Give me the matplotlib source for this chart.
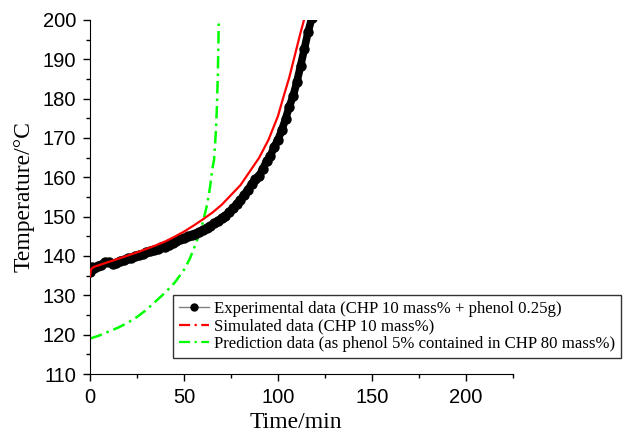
import matplotlib.pyplot as plt
from matplotlib.lines import Line2D
from matplotlib.ticker import MultipleLocator

# experimental data (CHP 10 mass% + phenol 0.25g)
exp_t = [0, 1, 2, 4, 6, 8, 10, 12, 14, 16, 18, 20, 22, 24, 26, 28, 30, 32, 34, 36,
         38, 40, 42, 44, 46, 48, 50, 52, 54, 56, 58, 60, 62, 64, 66, 68, 70, 72, 74,
         76, 78, 80, 82, 84, 86, 88, 90, 92, 94, 96, 98, 100, 102, 104, 106, 108,
         110, 112, 114, 116, 118]
exp_T = [136.0, 137.2, 137.0, 137.4, 137.8, 138.4, 138.5, 137.9, 138.3, 138.8,
         139.0, 139.4, 139.6, 139.9, 140.3, 140.4, 140.9, 141.3, 141.6, 141.8,
         142.3, 142.4, 142.9, 143.3, 143.8, 144.2, 144.5, 145.0, 145.3, 145.7,
         146.1, 146.6, 147.1, 147.6, 148.3, 149.0, 149.6, 150.2, 151.2, 152.1,
         153.2, 154.2, 155.6, 156.9, 158.3, 159.6, 160.4, 162.2, 164.2, 165.5,
         167.8, 169.6, 172.0, 174.8, 178.0, 180.6, 184.2, 188.3, 192.6, 197.0, 200.5]

# simulated (CHP 10 mass%)
sim_t = [0, 0.3, 0.8, 2, 5, 10, 15, 20, 25, 30, 35, 40, 45, 50, 55, 60, 65, 70, 75,
         80, 85, 90, 95, 100, 103, 106, 109, 112, 114]
sim_T = [134.8, 136.0, 136.8, 137.2, 137.7, 138.5, 139.3, 140.1, 140.9, 141.8,
         142.7, 143.7, 144.9, 146.2, 147.7, 149.3, 151.0, 153.0, 155.5, 158.0,
         161.5, 165.0, 169.6, 175.6, 180.6, 185.4, 191.1, 196.8, 200.3]

# prediction (phenol 5% in CHP 80 mass%)
pred_t = [0, 5, 10, 15, 20, 25, 30, 35, 40, 45, 50, 53, 56, 58, 60, 62, 63, 64,
          65, 66, 67, 67.5, 68, 68.3, 68.5]
pred_T = [119.0, 119.8, 120.8, 121.8, 123.0, 124.5, 126.3, 128.5, 130.7, 133.2,
          136.5, 139.2, 142.8, 145.5, 148.5, 152.5, 155.0, 158.0, 162.0, 164.5,
          172.0, 178.0, 186.0, 194.0, 200.5]

labels = ["Experimental data (CHP 10 mass% + phenol 0.25g)",
          "Simulated data (CHP 10 mass%)",
          "Prediction data (as phenol 5% contained in CHP 80 mass%)"]

serif = "Liberation Serif"
sans = "Liberation Sans"

fig = plt.figure(figsize=(6.3, 4.33), dpi=100)
ax = fig.add_axes([90 / 630, 1 - 374 / 433, 423 / 630, 354 / 433])

ax.plot(pred_t, pred_T, color="#00ff00", lw=1.8, dashes=(5, 2, 1, 2), zorder=2)
# dense markers drawn as a thick band, like the original scatter
ax.plot(exp_t, exp_T, color="black", lw=5.5, solid_capstyle="round",
        solid_joinstyle="round", marker="o", ms=6.5, mfc="black", mec="black",
        zorder=3)
ax.plot(sim_t, sim_T, color="red", lw=1.6, zorder=4)

ax.set_xlim(0, 225)
ax.set_ylim(110, 200)
ax.xaxis.set_major_locator(MultipleLocator(50))
ax.xaxis.set_minor_locator(MultipleLocator(25))
ax.yaxis.set_major_locator(MultipleLocator(10))
ax.yaxis.set_minor_locator(MultipleLocator(5))
ax.spines["top"].set_visible(False)
ax.spines["right"].set_visible(False)
ax.tick_params(which="major", direction="out", length=5, width=1,
               labelsize=14.5, pad=5)
ax.tick_params(which="minor", direction="out", length=3, width=1)
for lab in ax.get_xticklabels() + ax.get_yticklabels():
    lab.set_fontfamily(sans)

ax.set_xlabel("Time/min", fontsize=17, family=serif, labelpad=4, x=0.487)
ax.set_ylabel("Temperature/°C", fontsize=17, family=serif, labelpad=6)

handles = [
    Line2D([], [], color="gray", lw=1, marker="o", ms=5, mfc="black", mec="black"),
    Line2D([], [], color="red", lw=1.6, dashes=(5, 2, 1, 2)),
    Line2D([], [], color="#00ff00", lw=1.6, dashes=(5, 2, 1, 2)),
]
leg = fig.legend(handles, labels, loc="upper left",
                 bbox_to_anchor=(173 / 630, 1 - 295 / 433),
                 prop={"family": serif, "size": 12.1}, frameon=True, fancybox=False,
                 borderpad=0.35, labelspacing=0.1, handlelength=1.8,
                 handletextpad=0.3, borderaxespad=0)
leg.get_frame().set_edgecolor("black")
leg.get_frame().set_linewidth(1)

fig.savefig("out.png", dpi=100)
